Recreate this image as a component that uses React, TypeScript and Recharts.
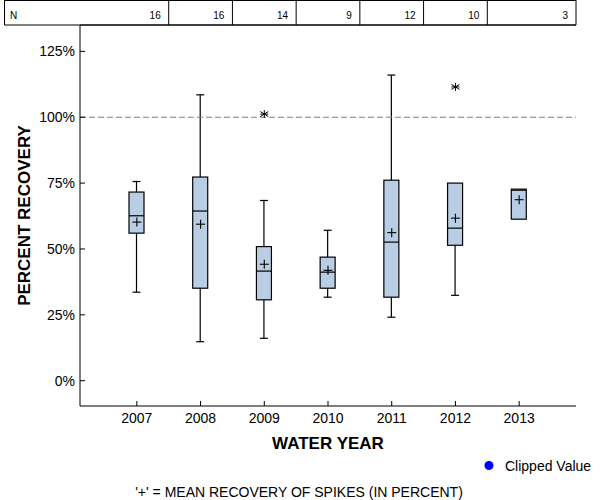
import React from 'react';
import { ComposedChart, Bar, Scatter, XAxis, YAxis, ReferenceLine, Label } from 'recharts';

// ---- data ----
const years = ['2007', '2008', '2009', '2010', '2011', '2012', '2013'];
const nCounts = [16, 16, 14, 9, 12, 10, 3];
const whiskerLow = [33.6, 14.8, 16.1, 31.7, 24.1, 32.4, 61.3];
const q1Values = [56.0, 35.1, 30.7, 35.1, 31.7, 51.4, 61.3];
const medianValues = [62.6, 64.4, 41.6, 41.2, 52.6, 57.9, 72.3];
const q3Values = [71.6, 77.3, 50.9, 46.9, 76.1, 75.0, 72.7];
const whiskerHigh = [75.6, 108.5, 68.4, 57.1, 116.0, 75.0, 72.7];
const meanValues = [60.2, 59.4, 44.2, 41.9, 56.2, 61.7, 68.7];
const outlierValues: (number | null)[] = [null, null, 101.2, null, null, 111.5, null];
const yTicks = [0, 25, 50, 75, 100, 125];

const data = years.map((year, i) => ({
  year,
  n: nCounts[i],
  low: whiskerLow[i],
  q1: q1Values[i],
  median: medianValues[i],
  q3: q3Values[i],
  high: whiskerHigh[i],
  mean: meanValues[i],
  outlier: outlierValues[i],
}));

// ---- layout constants ----
const X_PAD = 25;
const TABLE_LEFT = 4.5;
const TABLE_BOTTOM = 25;
const FONT = '"Liberation Sans", Arial, sans-serif';
const BOX_FILL = '#b9cde5';

const BoxShape = (props: any) => {
  const { x, y, width, height, payload } = props;
  if (!payload || x == null || y == null) return <g />;
  const lo = Math.min(payload.low, payload.q1);
  const hi = Math.max(payload.high, payload.q3);
  const top = Math.min(y, y + height);
  const h = Math.abs(height);
  const k = hi > lo ? h / (hi - lo) : 0;
  const py = (v: number) => top + (hi - v) * k;
  const cx = x + width / 2;
  const cap = 4;
  const s = { stroke: '#000', strokeWidth: 1.2 };
  return (
    <g>
      {payload.high > payload.q3 && (
        <g>
          <line x1={cx} x2={cx} y1={py(payload.high)} y2={py(payload.q3)} {...s} />
          <line x1={cx - cap} x2={cx + cap} y1={py(payload.high)} y2={py(payload.high)} {...s} />
        </g>
      )}
      {payload.low < payload.q1 && (
        <g>
          <line x1={cx} x2={cx} y1={py(payload.q1)} y2={py(payload.low)} {...s} />
          <line x1={cx - cap} x2={cx + cap} y1={py(payload.low)} y2={py(payload.low)} {...s} />
        </g>
      )}
      <rect x={x} y={py(payload.q3)} width={width} height={py(payload.q1) - py(payload.q3)} fill={BOX_FILL} {...s} />
      <line x1={x} x2={x + width} y1={py(payload.median)} y2={py(payload.median)} {...s} />
    </g>
  );
};

const PlusShape = (props: any) => {
  const { cx, cy } = props;
  if (cx == null || cy == null || isNaN(cx) || isNaN(cy)) return <g />;
  const r = 4.5;
  return (
    <g stroke="#000" strokeWidth={1.1}>
      <line x1={cx - r} x2={cx + r} y1={cy} y2={cy} />
      <line x1={cx} x2={cx} y1={cy - r} y2={cy + r} />
    </g>
  );
};

const StarShape = (props: any) => {
  const { cx, cy, payload } = props;
  if (!payload || payload.outlier == null || cx == null || cy == null || isNaN(cy)) return <g />;
  const r = 4;
  return (
    <g stroke="#000" strokeWidth={1}>
      <line x1={cx} x2={cx} y1={cy - r} y2={cy + r} />
      <line x1={cx - r} x2={cx + r} y1={cy - 2.5} y2={cy + 2.5} />
      <line x1={cx - r} x2={cx + r} y1={cy + 2.5} y2={cy - 2.5} />
      <line x1={cx - r} x2={cx + r} y1={cy} y2={cy} />
    </g>
  );
};

const TableTick = (props: any) => {
  const { x, payload } = props;
  const i: number = props.index ?? payload?.index ?? 0;
  const half = typeof payload?.offset === 'number' && payload.offset > 5 ? payload.offset : 32;
  const left = i === 0 ? TABLE_LEFT : x - half;
  const right = i === years.length - 1 ? x + half + X_PAD : x + half;
  return (
    <g>
      <line x1={left} x2={right} y1={0.5} y2={0.5} stroke="#000" />
      <line x1={left} x2={right} y1={TABLE_BOTTOM} y2={TABLE_BOTTOM} stroke="#000" />
      <line x1={right} x2={right} y1={0} y2={TABLE_BOTTOM} stroke="#000" />
      {i === 0 && <line x1={TABLE_LEFT} x2={TABLE_LEFT} y1={0} y2={TABLE_BOTTOM} stroke="#000" />}
      {i === 0 && (
        <text x={10} y={19} fontSize={10} fill="#000" fontFamily={FONT}>
          N
        </text>
      )}
      <text x={right - 8} y={19} fontSize={10} fill="#000" textAnchor="end" fontFamily={FONT}>
        {nCounts[i]}
      </text>
    </g>
  );
};

export default function App() {
  return (
    <div style={{ position: 'absolute', left: 0, top: 0, width: 600, height: 500, fontFamily: FONT, background: '#fff' }}>
      <ComposedChart width={600} height={500} data={data} margin={{ top: 0, right: 24, bottom: 51, left: 0 }}>
        <XAxis
          dataKey="year"
          interval={0}
          padding={{ left: X_PAD, right: X_PAD }}
          height={43}
          tickSize={-5}
          tickMargin={12}
          axisLine={{ stroke: '#000' }}
          tickLine={{ stroke: '#000' }}
          tick={{ fill: '#000', fontSize: 14 }}
        >
          <Label
            content={(p: any) => {
              const vb = p.viewBox || { x: 80, y: 406, width: 496, height: 43 };
              return (
                <text x={vb.x + vb.width / 2} y={vb.y + vb.height} textAnchor="middle" fontSize={17} fontWeight="bold" fill="#000" fontFamily={FONT}>
                  WATER YEAR
                </text>
              );
            }}
          />
        </XAxis>
        <XAxis
          xAxisId="top"
          dataKey="year"
          orientation="top"
          interval={0}
          padding={{ left: X_PAD, right: X_PAD }}
          height={25}
          tickLine={false}
          axisLine={{ stroke: '#000' }}
          tick={(p: any) => <TableTick {...p} />}
        />
        <YAxis
          type="number"
          domain={[-9.6, 135]}
          allowDataOverflow
          ticks={yTicks}
          interval={0}
          tickFormatter={(v: number) => `${v}%`}
          width={80}
          tickSize={-5}
          tickMargin={10}
          axisLine={{ stroke: '#000' }}
          tickLine={{ stroke: '#000' }}
          tick={{ fill: '#000', fontSize: 14 }}
        >
          <Label
            content={(p: any) => {
              const vb = p.viewBox || { x: 0, y: 25, width: 80, height: 381 };
              const cx = vb.x + 24;
              const cy = vb.y + vb.height / 2;
              return (
                <text
                  x={cx}
                  y={cy}
                  transform={`rotate(-90 ${cx} ${cy})`}
                  textAnchor="middle"
                  dominantBaseline="central"
                  fontSize={17}
                  fontWeight="bold"
                  fill="#000"
                  fontFamily={FONT}
                >
                  PERCENT RECOVERY
                </text>
              );
            }}
          />
        </YAxis>
        <YAxis yAxisId="right" orientation="right" width={0} domain={[0, 1]} tick={false} tickLine={false} axisLine={{ stroke: '#000' }} />
        <ReferenceLine y={100} stroke="#808080" strokeDasharray="6 3" />
        <Bar
          dataKey={(d: any) => [Math.min(d.low, d.q1), Math.max(d.high, d.q3)]}
          barSize={15}
          shape={(p: any) => <BoxShape {...p} />}
          isAnimationActive={false}
        />
        <Scatter dataKey="mean" shape={(p: any) => <PlusShape {...p} />} isAnimationActive={false} />
        <Scatter dataKey="outlier" shape={(p: any) => <StarShape {...p} />} isAnimationActive={false} />
      </ComposedChart>
      <svg width={600} height={500} style={{ position: 'absolute', left: 0, top: 0, pointerEvents: 'none' }}>
        <circle cx={489} cy={465.5} r={4.5} fill="#0000ff" />
        <text x={505} y={470.5} fontSize={14} fill="#000" fontFamily={FONT}>
          Clipped Value
        </text>
        <text x={299} y={497} fontSize={14} fill="#000" textAnchor="middle" fontFamily={FONT}>
          '+' = MEAN RECOVERY OF SPIKES (IN PERCENT)
        </text>
      </svg>
    </div>
  );
}
